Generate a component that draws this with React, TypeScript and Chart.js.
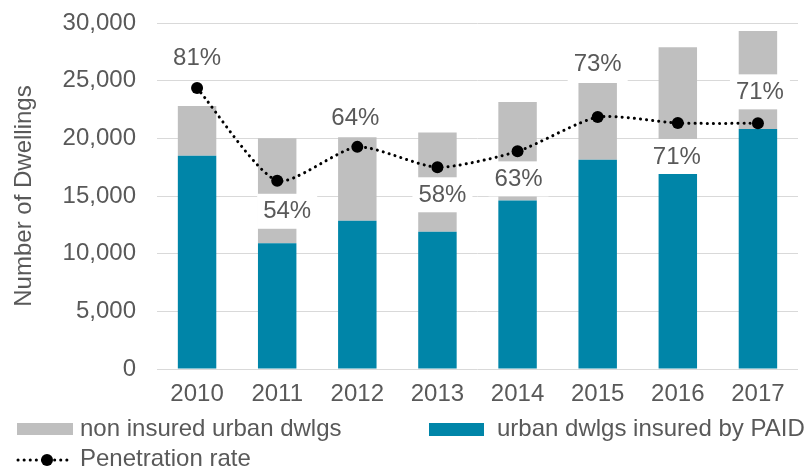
import React, { useEffect, useRef } from "react";
import { Chart, registerables } from "chart.js";

Chart.register(...registerables);

const years = ["2010", "2011", "2012", "2013", "2014", "2015", "2016", "2017"];
const insured = [18500, 10900, 12850, 11900, 14600, 18150, 17050, 20800];
const nonInsured = [4300, 9100, 7250, 8600, 8550, 6650, 10850, 8500];
const penetration = [0.812, 0.544, 0.642, 0.583, 0.629, 0.728, 0.711, 0.71];
const yTicks = [0, 5000, 10000, 15000, 20000, 25000, 30000];

// label placement (style only)
const labelDx = [0, 10, -2, 5, 1, 0, -1, 2];
const labelDy = [-31, 30, -29, 27, 27, -54, 33, -32];

const FONT = '"Liberation Sans", Arial, sans-serif';
const TEXT = "#595959";
const GRAY = "#bfbfbf";
const TEAL = "#0085a8";

const rateLabels = {
  id: "rateLabels",
  afterDatasetsDraw(chart: any) {
    const meta = chart.getDatasetMeta(2);
    const ctx = chart.ctx;
    ctx.save();
    ctx.font = `24px ${FONT}`;
    ctx.textAlign = "center";
    ctx.textBaseline = "middle";
    meta.data.forEach((pt: any, i: number) => {
      const x = pt.x + labelDx[i];
      const y = pt.y + labelDy[i];
      ctx.fillStyle = "#ffffff";
      ctx.fillRect(x - 30, y - 17, 60, 35);
      ctx.fillStyle = TEXT;
      ctx.fillText(Math.round(penetration[i] * 100) + "%", x, y + 1);
    });
    ctx.restore();
  },
};

export default function App() {
  const ref = useRef<HTMLCanvasElement>(null);
  useEffect(() => {
    const chart = new Chart(ref.current!, {
      type: "bar",
      data: {
        labels: years,
        datasets: [
          {
            type: "bar",
            label: "urban dwlgs insured by PAID",
            data: insured,
            backgroundColor: TEAL,
            stack: "s",
            order: 1,
            categoryPercentage: 1,
            barPercentage: 0.48,
          },
          {
            type: "bar",
            label: "non insured urban dwlgs",
            data: nonInsured,
            backgroundColor: GRAY,
            stack: "s",
            order: 1,
            categoryPercentage: 1,
            barPercentage: 0.48,
          },
          {
            type: "line",
            label: "Penetration rate",
            data: penetration,
            yAxisID: "y2",
            order: 0,
            borderColor: "#000000",
            borderWidth: 3,
            borderDash: [0.1, 6],
            borderCapStyle: "round",
            tension: 0.22,
            pointRadius: 6,
            pointBackgroundColor: "#000000",
            pointBorderColor: "#000000",
            pointBorderWidth: 0,
            fill: false,
          } as any,
        ],
      },
      options: {
        responsive: false,
        animation: false,
        devicePixelRatio: 1,
        layout: { padding: { top: 23, right: 10, bottom: 59, left: 0 } },
        plugins: { legend: { display: false }, tooltip: { enabled: false } },
        scales: {
          x: {
            stacked: true,
            grid: { display: false, drawTicks: false },
            border: { display: false },
            ticks: { color: TEXT, font: { family: FONT, size: 24 }, padding: 11, maxRotation: 0 },
            afterFit: (s: any) => {
              s.height = 40;
            },
          },
          y: {
            stacked: true,
            min: 0,
            max: 30000,
            afterBuildTicks: (s: any) => {
              s.ticks = yTicks.map((v) => ({ value: v }));
            },
            grid: { color: "#d9d9d9", lineWidth: 1, drawTicks: false },
            border: { display: false },
            ticks: {
              color: TEXT,
              font: { family: FONT, size: 24 },
              padding: 21,
              callback: (v: any) => Number(v).toLocaleString("en-US"),
            },
            title: {
              display: true,
              text: "Number of Dwellings",
              color: TEXT,
              font: { family: FONT, size: 24 },
              padding: { top: 10, bottom: 0 },
            },
            afterFit: (s: any) => {
              s.width = 157;
              s.paddingTop = 0;
              s.paddingBottom = 0;
            },
          },
          y2: {
            display: false,
            min: 0,
            max: 1,
            stacked: false,
          },
        },
      },
      plugins: [rateLabels],
    });
    return () => chart.destroy();
  }, []);

  const textStyle: React.CSSProperties = {
    position: "absolute",
    fontFamily: FONT,
    fontSize: 24,
    lineHeight: "28px",
    color: TEXT,
    whiteSpace: "nowrap",
  };

  return (
    <div style={{ position: "absolute", left: 0, top: 0, width: 808, height: 468, background: "#fff" }}>
      <canvas ref={ref} width={808} height={468} style={{ display: "block" }} />
      <div style={{ position: "absolute", left: 17, top: 423, width: 56, height: 12, background: GRAY }} />
      <div style={{ ...textStyle, left: 80, top: 414 }}>non insured urban dwlgs</div>
      <div style={{ position: "absolute", left: 429, top: 423, width: 55, height: 13, background: TEAL }} />
      <div style={{ ...textStyle, left: 497, top: 414 }}>urban dwlgs insured by PAID</div>
      <svg style={{ position: "absolute", left: 14, top: 452 }} width={62} height={16}>
        <line x1={4} y1={8} x2={58} y2={8} stroke="#000" strokeWidth={3} strokeDasharray="0.1 6" strokeLinecap="round" />
        <circle cx={33} cy={8} r={6} fill="#000" />
      </svg>
      <div style={{ ...textStyle, left: 80, top: 444 }}>Penetration rate</div>
    </div>
  );
}
